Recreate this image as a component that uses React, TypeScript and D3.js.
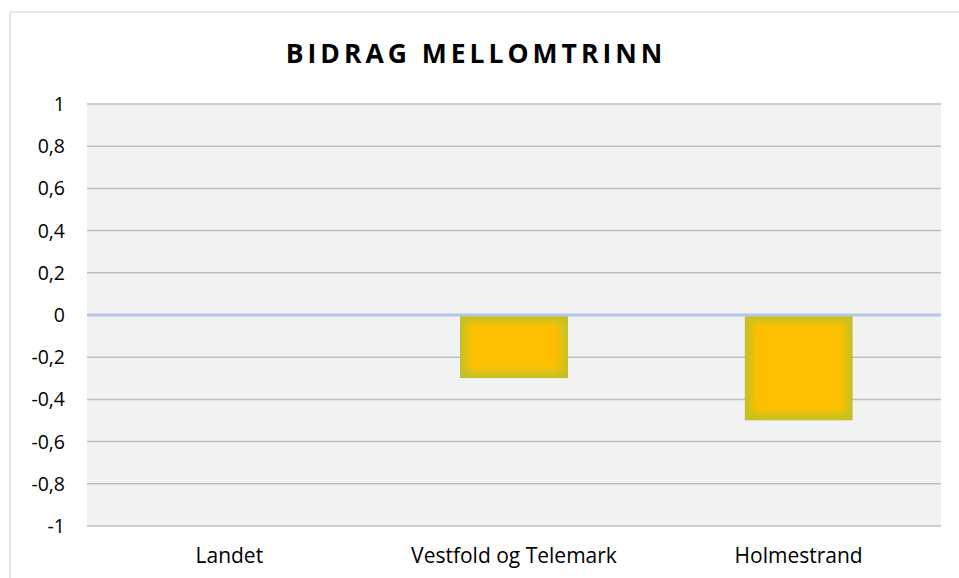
import React from "react";
import * as d3 from "d3";

const categories = ["Landet", "Vestfold og Telemark", "Holmestrand"];
const values = [0, -0.3, -0.5];
const yTicks = [1, 0.8, 0.6, 0.4, 0.2, 0, -0.2, -0.4, -0.6, -0.8, -1];
const title = "BIDRAG MELLOMTRINN";

const W = 959;
const H = 578;
const plot = { left: 87, right: 941, top: 104, bottom: 526 };

export default function App() {
  const x = d3
    .scaleBand<string>()
    .domain(categories)
    .range([plot.left, plot.right])
    .paddingInner(0.62)
    .paddingOuter(0.31);
  const y = d3.scaleLinear().domain([-1, 1]).range([plot.bottom, plot.top]);
  const fmt = (v: number) => (v === 0 ? "0" : String(+v.toFixed(1)).replace(".", ","));
  const font = "'Open Sans', 'Liberation Sans', sans-serif";

  return (
    <svg
      width={W}
      height={H}
      style={{ position: "absolute", left: 0, top: 0, background: "#fff" }}
    >
      <defs>
        <filter id="blur" x="-20%" y="-20%" width="140%" height="140%">
          <feGaussianBlur stdDeviation="5" />
        </filter>
      </defs>
      {/* chart border */}
      <rect x={10} y={12} width={W + 10} height={H + 10} fill="#fff" stroke="#D9E1F2" strokeWidth={1.5} />
      <text
        x={476}
        y={62.5}
        textAnchor="middle"
        fontFamily={font}
        fontWeight={700}
        fontSize={26.5}
        letterSpacing={4}
        fill="#000"
      >
        {title}
      </text>
      <rect
        x={plot.left}
        y={plot.top}
        width={plot.right - plot.left}
        height={plot.bottom - plot.top}
        fill="#F2F2F2"
      />
      {yTicks.map((t) => (
        <g key={t}>
          {t !== 0 && (
            <line x1={plot.left} x2={plot.right} y1={y(t)} y2={y(t)} stroke="#BFBFBF" strokeWidth={1.5} />
          )}
          <text
            x={65}
            y={y(t) + 7}
            textAnchor="end"
            fontFamily={font}
            fontSize={19.5}
            fill="#000"
          >
            {fmt(t)}
          </text>
        </g>
      ))}
      {categories.map((c, i) => {
        const v = values[i];
        const bx = x(c)!;
        const bw = x.bandwidth();
        const y0 = y(Math.max(0, v));
        const y1 = y(Math.min(0, v));
        const h = y1 - y0;
        if (h <= 0) return null;
        const cid = `clip${i}`;
        return (
          <g key={c}>
            <clipPath id={cid}>
              <rect x={bx} y={y0} width={bw} height={h} />
            </clipPath>
            <g clipPath={`url(#${cid})`}>
              <rect x={bx} y={y0} width={bw} height={h} fill="#BDC12A" />
              <rect
                x={bx + 6}
                y={y0 + 6}
                width={Math.max(0, bw - 12)}
                height={Math.max(0, h - 12)}
                fill="#FFC000"
                filter="url(#blur)"
              />
            </g>
          </g>
        );
      })}
      <line x1={plot.left} x2={plot.right} y1={y(0)} y2={y(0)} stroke="#B4C5E7" strokeWidth={3} />
      {categories.map((c) => (
        <text
          key={c}
          x={x(c)! + x.bandwidth() / 2}
          y={563}
          textAnchor="middle"
          fontFamily={font}
          fontSize={21}
          fill="#000"
        >
          {c}
        </text>
      ))}
    </svg>
  );
}
